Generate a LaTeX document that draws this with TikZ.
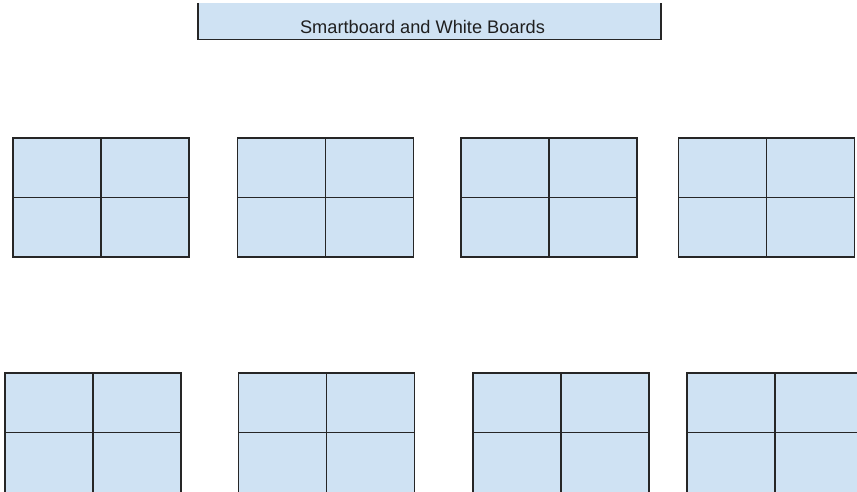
\documentclass[tikz,border=0pt]{standalone}
\usepackage{fontspec}
\setmainfont{Liberation Sans}
\definecolor{tablefill}{HTML}{CFE2F3}
\definecolor{edge}{HTML}{262626}
\begin{document}
\begin{tikzpicture}[x=1pt,y=-1pt,
  tablebox/.style={draw=edge,fill=tablefill,line width=1.1pt,minimum width=176pt,minimum height=119pt,inner sep=0pt,outer sep=0pt},
  lowtablebox/.style={tablebox,minimum height=125pt},
  divider/.style={draw=edge,line width=1.1pt},
  bannerbox/.style={fill=tablefill,minimum width=463pt,minimum height=36.5pt,inner sep=0pt,outer sep=0pt}]
\useasboundingbox (0,0) rectangle (857,492);
\clip (0,0) rectangle (857,492);
\fill[white] (0,0) rectangle (857,492);
% banner (open at the top)
\node[bannerbox] (banner) at (429.5,21.25) {};
\draw[divider] (banner.north west) -- (banner.south west) -- (banner.south east) -- (banner.north east);
\node[anchor=base,inner sep=0pt,font=\fontsize{18.2}{20}\selectfont,text=black!88] (title) at (422.5,33.3) {Smartboard and White Boards};
% front row of tables
\foreach \n/\x in {t1/101, t2/325.5, t3/549, t4/766.5}{
  \node[tablebox] (\n) at (\x,197.5) {};
  \draw[divider] (\n.north) -- (\n.south);
  \draw[divider] (\n.west) -- (\n.east);
}
% back row of tables (cut off by the lower edge)
\foreach \n/\x in {t5/93, t6/326.5, t7/561, t8/775}{
  \node[lowtablebox,anchor=north] (\n) at (\x,373) {};
  \draw[divider] (\n.north) -- (\n.south);
  \draw[divider] (\n.north west) ++(0,59.5) -- ++(176,0);
}
\end{tikzpicture}
\end{document}
